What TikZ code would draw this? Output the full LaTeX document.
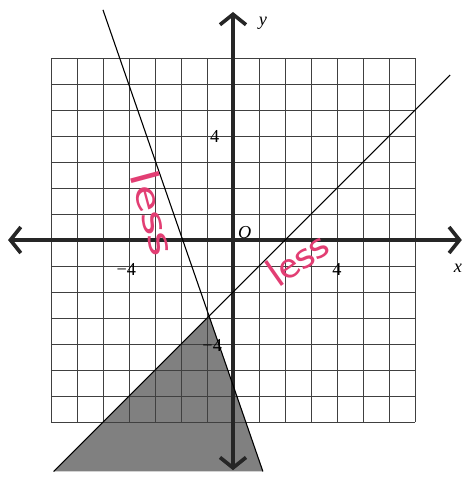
\documentclass[tikz,border=0pt]{standalone}
\usepackage{fontspec}
\setmainfont{Liberation Serif}
\usetikzlibrary{arrows.meta}
\definecolor{penpink}{RGB}{226,62,115}
\tikzset{
  gridline/.style={line width=0.7pt, black!75},
  axis/.style={line width=4pt, black!85,
    {Straight Barb[length=4mm,width=10mm]}-{Straight Barb[length=4mm,width=10mm]}},
  graphline/.style={line width=1.2pt},
  region/.style={fill=black!50},
  ticklabel/.style={font=\fontsize{20}{24}\selectfont},
  note/.style={text=penpink, font=\sffamily\fontsize{46}{46}\selectfont}
}
\begin{document}
\begin{tikzpicture}
  \useasboundingbox (-8.96,-9.19) rectangle (8.96,9.23);

  % line ends and corner of the region
  \coordinate (a1) at (-5,8.85); \coordinate (a2) at (1.15,-8.9);
  \coordinate (b1) at (-6.9,-8.9); \coordinate (b2) at (8.35,6.35);
  \coordinate (p) at (-0.92,-2.92);

  % shaded region
  \fill[region] (b1) -- (p) -- (a2) -- cycle;

  \draw[gridline] (-7,-7) grid (7,7);

  % axes
  \draw[axis] (-8.65,0) -- (8.8,0);
  \draw[axis] (0,-8.85) -- (0,8.77);

  % boundary lines
  \draw[graphline] (a1) -- (a2);
  \draw[graphline] (b1) -- (b2);

  % labels
  \node[ticklabel] (ylab) at (1.15,8.35) {\textit{y}};
  \node[ticklabel] (xlab) at (8.65,-1.1) {\textit{x}};
  \node[ticklabel] (orig) at (0.45,0.3) {\textit{O}};
  \node[ticklabel] (yfour) at (-0.7,4) {4};
  \node[ticklabel] (ymfour) at (-0.8,-4.05) {−4};
  \node[ticklabel] (xmfour) at (-4.1,-1.15) {−4};
  \node[ticklabel] (xfour) at (4,-1.15) {4};

  % handwriting
  \node[note, rotate=-75, xscale=1.5] (lessl) at (-3.0,1.05) {less};
  \node[note, rotate=35, xscale=1.15] (lessr) at (2.45,-0.7) {less};
\end{tikzpicture}
\end{document}
